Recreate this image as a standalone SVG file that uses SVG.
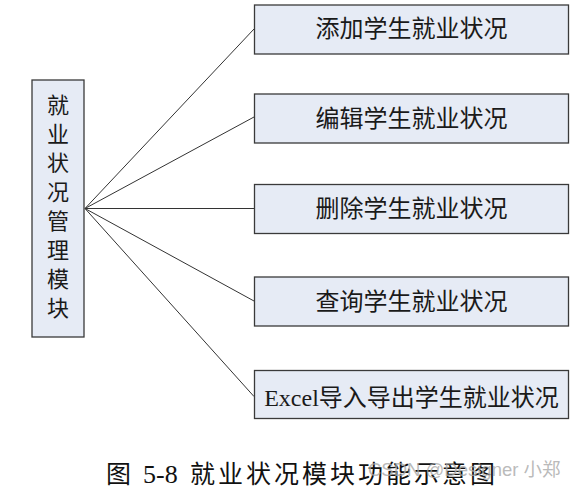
<svg xmlns="http://www.w3.org/2000/svg" width="577" height="490" viewBox="0 0 577 490">
<style>
.box{fill:#e6ebf5;stroke:#3a3a3a;stroke-width:1.3}
.t{font-family:"Noto Sans CJK SC","Noto Sans",sans-serif;font-size:24px;fill:#1a1a1a;text-anchor:middle}
.v{font-family:"Noto Sans CJK SC","Noto Sans",sans-serif;font-size:22px;fill:#1a1a1a;text-anchor:middle}
.lat{font-family:"Liberation Serif",serif}
.c{stroke:#333;stroke-width:1;fill:none}
</style>
<rect width="577" height="490" fill="#fff"/>
<g id="connectors">
<line class="c" x1="85" y1="208.5" x2="254" y2="29"/>
<line class="c" x1="85" y1="208.5" x2="254" y2="117"/>
<line class="c" x1="85" y1="208.5" x2="254" y2="208.5"/>
<line class="c" x1="85" y1="208.5" x2="254" y2="301"/>
<line class="c" x1="85" y1="208.5" x2="254" y2="396.5"/>
</g>
<g id="main">
<rect class="box" x="32" y="80" width="52" height="257"/>
<text class="v" x="58" y="113">就</text>
<text class="v" x="58" y="142">业</text>
<text class="v" x="58" y="171">状</text>
<text class="v" x="58" y="200">况</text>
<text class="v" x="58" y="229">管</text>
<text class="v" x="58" y="258">理</text>
<text class="v" x="58" y="287">模</text>
<text class="v" x="58" y="316">块</text>
</g>
<g id="add">
<rect class="box" x="254.5" y="5" width="314" height="49"/>
<text class="t" x="411.5" y="36.5">添加学生就业状况</text>
</g>
<g id="edit">
<rect class="box" x="254.5" y="94" width="314" height="49"/>
<text class="t" x="411.5" y="126.5">编辑学生就业状况</text>
</g>
<g id="delete">
<rect class="box" x="254.5" y="184.5" width="314" height="49"/>
<text class="t" x="411.5" y="216.5">删除学生就业状况</text>
</g>
<g id="query">
<rect class="box" x="254.5" y="277" width="314" height="49"/>
<text class="t" x="411.5" y="309.5">查询学生就业状况</text>
</g>
<g id="excel">
<rect class="box" x="254.5" y="370.5" width="314" height="48"/>
<text class="t" x="411.5" y="406"><tspan class="lat">Excel</tspan>导入导出学生就业状况</text>
</g>
<g id="caption">
<text x="106" y="483" style="font-family:'Noto Sans CJK SC',sans-serif;font-size:25px;fill:#111">图</text>
<text x="143" y="483" style="font-family:'Liberation Serif',serif;font-size:26px;fill:#111">5-8</text>
<text x="190" y="483" textLength="305" lengthAdjust="spacing" style="font-family:'Noto Sans CJK SC',sans-serif;font-size:25px;fill:#111">就业状况模块功能示意图</text>
<text x="368" y="476" style="font-family:'Liberation Sans','Noto Sans CJK SC',sans-serif;font-size:18.5px;fill:#a8a8a8;fill-opacity:0.8">CSDN @Designer 小郑</text>
</g>
</svg>
